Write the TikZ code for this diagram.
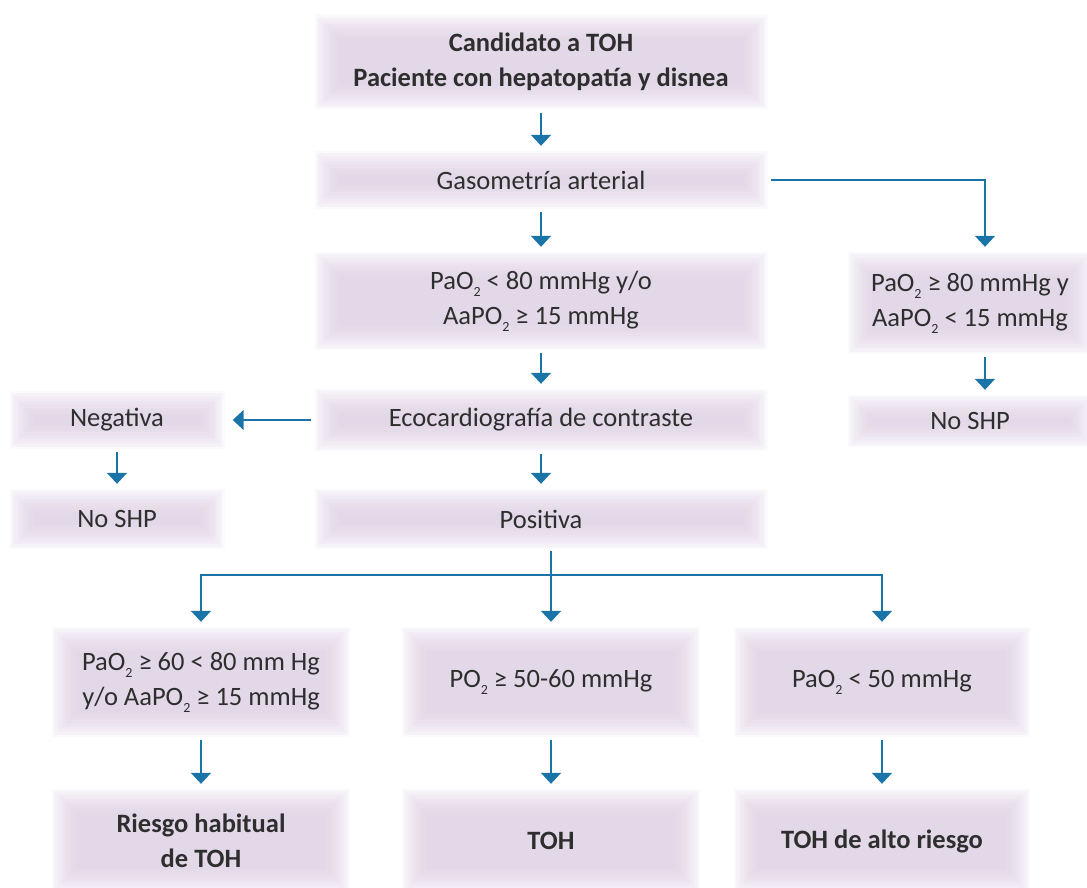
\documentclass[tikz,border=0pt]{standalone}
\usepackage{fontspec}
\setmainfont{Carlito}
\usetikzlibrary{arrows.meta}
\definecolor{flowblue}{HTML}{1B74A8}
\definecolor{boxlav}{RGB}{223,209,229}
\definecolor{txt}{HTML}{2E2E2E}
% lowered subscript two for the gas formulas
\newcommand\subtwo{\raisebox{-0.55ex}{\fontsize{14}{14}\selectfont 2}}
\begin{document}
\begin{tikzpicture}[x=1pt,y=-1pt,
  softbox/.style={inner sep=0pt, align=center, text=txt, fill=white,
    font=\fontsize{26.5}{35}\selectfont,
    path picture={
      \foreach \i in {0,...,10}{
        \fill[boxlav, fill opacity=0.13]
          ([shift={(\i*2.4pt,-\i*2.4pt)}]path picture bounding box.north west)
          rectangle
          ([shift={(-\i*2.4pt,\i*2.4pt)}]path picture bounding box.south east);
      }}},
  strong/.style={font=\fontsize{26.5}{35}\selectfont\bfseries},
  flow/.style={draw=flowblue, line width=1.8pt, shorten <=3pt, shorten >=5pt,
    -{Triangle[width=20pt,length=11pt]}},
  flowline/.style={draw=flowblue, line width=1.8pt}
]
\useasboundingbox (0,0) rectangle (1087,888);

% main column
\node[softbox, strong, minimum width=453pt, minimum height=95pt] (top) at (541,62)
  {Candidato a TOH\\Paciente con hepatopatía y disnea};
\node[softbox, minimum width=453pt, minimum height=58pt] (gaso) at (541,180)
  {Gasometría arterial};
\node[softbox, minimum width=453pt, minimum height=98pt] (low) at (541,301)
  {PaO\subtwo{} < 80 mmHg y/o\\AaPO\subtwo{} ≥ 15 mmHg};
\node[softbox, minimum width=453pt, minimum height=62pt] (eco) at (541,420)
  {Ecocardiografía de contraste};
\node[softbox, minimum width=453pt, minimum height=60pt] (pos) at (541,519)
  {Positiva};

% left branch
\node[softbox, minimum width=215pt, minimum height=58pt] (neg) at (117,420)
  {Negativa};
\node[softbox, minimum width=215pt, minimum height=60pt] (noshpl) at (117,519)
  {No SHP};

% right branch
\node[softbox, minimum width=244pt, minimum height=102pt] (norm) at (970,303)
  {PaO\subtwo{} ≥ 80 mmHg y\\AaPO\subtwo{} < 15 mmHg};
\node[softbox, minimum width=244pt, minimum height=52pt] (noshpr) at (970,421)
  {No SHP};

% severity row
\node[softbox, minimum width=298pt, minimum height=110pt] (mild) at (201,682)
  {PaO\subtwo{} ≥ 60 < 80 mm Hg\\y/o AaPO\subtwo{} ≥ 15 mmHg};
\node[softbox, minimum width=298pt, minimum height=110pt] (mod) at (551,682)
  {PO\subtwo{} ≥ 50-60 mmHg};
\node[softbox, minimum width=296pt, minimum height=110pt] (sev) at (882,682)
  {PaO\subtwo{} < 50 mmHg};

% outcome row
\node[softbox, strong, minimum width=298pt, minimum height=104pt] (r1) at (201,841)
  {Riesgo habitual\\de TOH};
\node[softbox, strong, minimum width=298pt, minimum height=104pt] (r2) at (551,841)
  {TOH};
\node[softbox, strong, minimum width=296pt, minimum height=104pt] (r3) at (882,841)
  {TOH de alto riesgo};

% connectors
\draw[flow] (top) -- (gaso);
\draw[flow] (gaso) -- (low);
\draw[flow] (low) -- (eco);
\draw[flow] (eco) -- (pos);
\draw[flow] (gaso.east) -| ([xshift=15pt]norm.north);
\draw[flow] ([xshift=15pt]norm.south) -- ([xshift=15pt]noshpr.north);
\draw[flow, shorten >=8pt] (eco.west) -- (neg.east);
\draw[flow] (neg) -- (noshpl);

\coordinate (split) at (551,575);
\draw[flowline, shorten <=2pt] (pos.south -| split) -- (split);
\draw[flow, shorten <=0pt] (split) -| (mild.north);
\draw[flow, shorten <=0pt] (split) -- (mod.north);
\draw[flow, shorten <=0pt] (split) -| (sev.north);

\draw[flow] (mild) -- (r1);
\draw[flow] (mod) -- (r2);
\draw[flow] (sev) -- (r3);
\end{tikzpicture}
\end{document}
